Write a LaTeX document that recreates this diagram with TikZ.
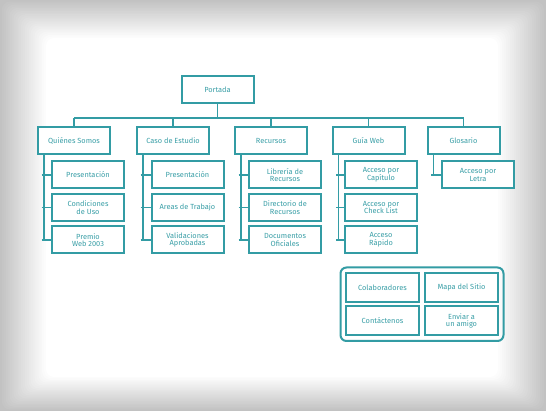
\documentclass[tikz,border=0pt]{standalone}
\usepackage{fontspec}
\setsansfont{Fira Sans}
\usetikzlibrary{positioning}
\usetikzlibrary{fit}
\definecolor{color_map_line}{HTML}{339CA4}
\definecolor{color_map_text}{HTML}{3A9FA7}
\definecolor{color_bg_edge}{HTML}{C2C2C2}
\def\mapboxlinewidth{2pt}
\def\maplinewidth{1.7pt}
\def\mapstubshift{-2.5pt}
\def\maptrunkshift{7pt}
\tikzset{
    mapbox/.style={draw=color_map_line, line width=\mapboxlinewidth, fill=white,
        minimum width=72pt, minimum height=27pt, inner sep=1pt, align=center,
        text=color_map_text, font=\sffamily\fontsize{7.4}{7.6}\selectfont},
    mapline/.style={draw=color_map_line, line width=\maplinewidth},
}

\begin{document}
\begin{tikzpicture}[x=1pt,y=-1pt]
        \useasboundingbox (0,0) rectangle (546,411);
        % soft grey frame round the page
        \fill[color_bg_edge] (0,0) rectangle (546,411);
        \foreach \i in {1,...,24}{
            \pgfmathsetmacro\f{\i/24}
            \pgfmathsetmacro\p{100*\f}
            \fill[white!\p!color_bg_edge, rounded corners=8pt] (46*\f,38*\f) rectangle (546-48*\f,411-34*\f);
        }
        % top of the map
        \node[mapbox] (portada) at (217.5,90) {Portada};
        \coordinate (bus) at (217.5,118);
        % first level
        \node[mapbox] (quienes) at (74,140.5) {Quiénes Somos};
        \node[mapbox] (caso) at (173,140.5) {Caso de Estudio};
        \node[mapbox] (recursos) at (271,140.5) {Recursos};
        \node[mapbox] (guia) at (368.5,140.5) {Guía Web};
        \node[mapbox] (glosario) at (463.5,140.5) {Glosario};
        % second level
        \node[mapbox] (quienes1) at (88,175) {Presentación};
        \node[mapbox] (quienes2) at (88,207.5) {Condiciones\\de Uso};
        \node[mapbox] (quienes3) at (88,240) {Premio\\Web 2003};
        \node[mapbox] (caso1) at (187.5,175) {Presentación};
        \node[mapbox] (caso2) at (187.5,207.5) {Areas de Trabajo};
        \node[mapbox] (caso3) at (187.5,240) {Validaciones\\Aprobadas};
        \node[mapbox] (recursos1) at (285,175) {Librería de\\Recursos};
        \node[mapbox] (recursos2) at (285,207.5) {Directorio de\\Recursos};
        \node[mapbox] (recursos3) at (285,240) {Documentos\\Oficiales};
        \node[mapbox] (guia1) at (381,175) {Acceso por\\Capítulo};
        \node[mapbox] (guia2) at (381,207.5) {Acceso por\\Check List};
        \node[mapbox] (guia3) at (381,240) {Acceso\\Rápido};
        \node[mapbox] (glosario1) at (478,175) {Acceso por\\Letra};
        % bus from the top
        \draw[mapline] (portada.south) -- (bus);
        \draw[mapline] (quienes.north |- bus) -- (glosario.north |- bus);
        \foreach \n in {quienes,caso,recursos,guia,glosario}
            \draw[mapline] (\n.north |- bus) -- (\n.north);
        % trunks down to the children
        \foreach \n/\last in {quienes/3,caso/3,recursos/3,guia/3,glosario/1}{
            \draw[mapline] ([xshift=\maptrunkshift]\n.south west) |- (\n\last.west);
            \foreach \k in {1,...,\last}
                \draw[mapline] ([xshift=\maptrunkshift+\mapstubshift]\n.south west |- \n\k.west) -- (\n\k.west);
        }
        % extra pages
        \node[mapbox, minimum width=73pt, minimum height=29pt] (colab) at (382.5,287.5) {Colaboradores};
        \node[mapbox, minimum width=73pt, minimum height=29pt] (mapa) at (461.5,287.5) {Mapa del Sitio};
        \node[mapbox, minimum width=73pt, minimum height=29pt] (contacto) at (382.5,321) {Contáctenos};
        \node[mapbox, minimum width=73pt, minimum height=29pt] (enviar) at (461.5,321) {Enviar a\\un amigo};
        \node[mapbox, rounded corners=6pt, inner sep=4.5pt, fill=none, fit=(colab)(enviar)] (extras) {};
\end{tikzpicture}
\end{document}
